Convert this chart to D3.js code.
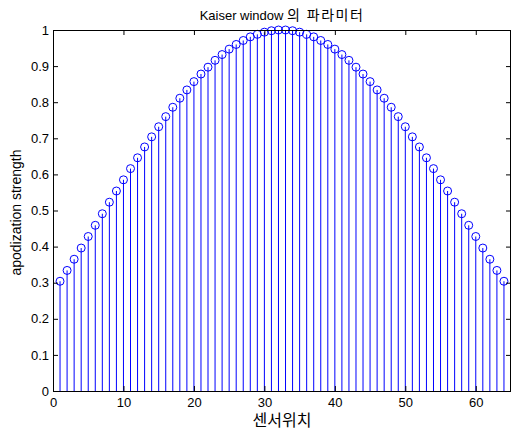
<!DOCTYPE html>
<html>
<head>
<meta charset="utf-8">
<script src="https://cdn.jsdelivr.net/npm/d3@7"></script>
<style>
  html, body { margin: 0; padding: 0; background: #fff; }
  svg { display: block; }
  text { font-family: "Liberation Sans", Arial, "Noto Sans CJK KR", sans-serif; fill: #000; }
</style>
</head>
<body>
<script>
// Sensor positions 1..64 and their Kaiser window weights (symmetric)
const positions = d3.range(1, 65);
const halfWeights = [
  0.304, 0.334, 0.365, 0.396, 0.428, 0.459, 0.491, 0.523,
  0.554, 0.585, 0.616, 0.646, 0.676, 0.704, 0.732, 0.760,
  0.786, 0.811, 0.834, 0.857, 0.878, 0.897, 0.916, 0.932,
  0.947, 0.960, 0.971, 0.981, 0.988, 0.994, 0.998, 1.000
];
const weights = halfWeights.concat(halfWeights.slice().reverse());
const xTicks = [0, 10, 20, 30, 40, 50, 60];
const yTicks = [0, 0.1, 0.2, 0.3, 0.4, 0.5, 0.6, 0.7, 0.8, 0.9, 1];

const titleLatin = "Kaiser window ";
const titleKorean = "의 파라미터";
const xLabel = "센서위치";
const yLabel = "apodization strength";

const W = 512, H = 432;
const margin = { left: 53, right: 1, top: 30, bottom: 41 };
const iw = W - margin.left - margin.right;
const ih = H - margin.top - margin.bottom;

const svg = d3.select("body").append("svg").attr("width", W).attr("height", H);
const g = svg.append("g").attr("transform", `translate(${margin.left},${margin.top})`);

const x = d3.scaleLinear().domain([0, 65]).range([0, iw]);
const y = d3.scaleLinear().domain([0, 1]).range([ih, 0]);

const blue = "#0000ff";
const data = positions.map((p, i) => ({ p, v: weights[i] }));

// Stems
g.append("g").selectAll("line").data(data).join("line")
  .attr("x1", d => x(d.p))
  .attr("x2", d => x(d.p))
  .attr("y1", y(0))
  .attr("y2", d => y(d.v))
  .attr("stroke", blue)
  .attr("stroke-width", 1);

// Markers
g.append("g").selectAll("circle").data(data).join("circle")
  .attr("cx", d => x(d.p))
  .attr("cy", d => y(d.v))
  .attr("r", 4)
  .attr("fill", "none")
  .attr("stroke", blue)
  .attr("stroke-width", 1);

// Axes with inward ticks on all sides
const fmtY = d => (d === 0 || d === 1) ? String(d) : d3.format(".1f")(d);
const axB = g.append("g").attr("transform", `translate(0,${ih})`)
  .call(d3.axisBottom(x).tickValues(xTicks).tickSizeInner(-5).tickSizeOuter(0).tickPadding(7));
const axL = g.append("g")
  .call(d3.axisLeft(y).tickValues(yTicks).tickFormat(fmtY).tickSizeInner(-5).tickSizeOuter(0).tickPadding(4));
const axT = g.append("g")
  .call(d3.axisTop(x).tickValues(xTicks).tickSizeInner(-5).tickSizeOuter(0).tickFormat(""));
const axR = g.append("g").attr("transform", `translate(${iw},0)`)
  .call(d3.axisRight(y).tickValues(yTicks).tickSizeInner(-5).tickSizeOuter(0).tickFormat(""));

[axB, axL, axT, axR].forEach(a => {
  a.selectAll(".domain").remove();
  a.selectAll("line").attr("stroke", "#000");
  a.selectAll("text").style("font-size", "13px").attr("fill", "#000");
});

// Frame
g.append("rect")
  .attr("x", 0.5).attr("y", 0.5)
  .attr("width", iw - 1).attr("height", ih)
  .attr("fill", "none").attr("stroke", "#000");

// Titles
const title = svg.append("text")
  .attr("x", margin.left + iw / 2).attr("y", 19.5)
  .attr("text-anchor", "middle")
  .style("font-size", "13px");
title.append("tspan").text(titleLatin);
title.append("tspan").style("font-size", "14px").style("letter-spacing", "1.5px").text(titleKorean);

svg.append("text")
  .attr("x", margin.left + iw / 2).attr("y", 426)
  .attr("text-anchor", "middle")
  .style("font-size", "16px")
  .text(xLabel);

svg.append("text")
  .attr("transform", `translate(21,${margin.top + ih / 2 + 2}) rotate(-90)`)
  .attr("text-anchor", "middle")
  .style("font-size", "14px")
  .text(yLabel);
</script>
</body>
</html>
